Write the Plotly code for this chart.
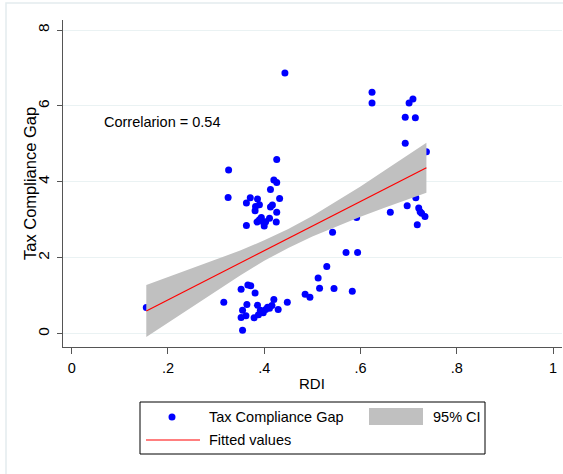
import plotly.graph_objects as go

# ---- data ----
rdi = [0.155, 0.316, 0.326, 0.325, 0.352, 0.355, 0.352, 0.362, 0.355, 0.364,
       0.366, 0.372, 0.381, 0.379, 0.386, 0.388, 0.392, 0.398, 0.403, 0.411,
       0.416, 0.420, 0.429, 0.448, 0.395, 0.407,
       0.363, 0.363, 0.371, 0.382, 0.386, 0.390, 0.381, 0.385, 0.394, 0.400,
       0.403, 0.411, 0.413, 0.417, 0.413, 0.420, 0.426, 0.426, 0.432, 0.426,
       0.425, 0.390, 0.398,
       0.443, 0.485, 0.495, 0.512, 0.515, 0.530, 0.542, 0.545, 0.570, 0.583,
       0.594, 0.592, 0.624, 0.624, 0.662, 0.693, 0.693, 0.701, 0.709, 0.714,
       0.697, 0.715, 0.718, 0.721, 0.724, 0.727, 0.734, 0.737]
gap = [0.69, 0.83, 4.31, 3.59, 1.17, 0.62, 0.43, 0.47, 0.09, 0.77,
       1.28, 1.26, 1.07, 0.42, 0.75, 0.50, 0.62, 0.55, 0.64, 0.67,
       0.74, 0.90, 0.64, 0.83, 0.58, 0.70,
       3.44, 2.85, 3.58, 3.35, 3.55, 3.40, 3.24, 2.94, 3.06, 2.84,
       2.95, 3.04, 3.34, 3.39, 3.80, 4.05, 3.98, 4.59, 3.56, 3.20,
       2.94, 3.00, 2.94,
       6.87, 1.04, 0.96, 1.47, 1.20, 1.77, 2.67, 1.19, 2.14, 1.12,
       2.14, 3.06, 6.36, 6.08, 3.20, 5.70, 5.02, 6.08, 6.18, 5.69,
       3.37, 3.58, 2.87, 3.31, 3.21, 3.17, 3.09, 4.79]

# fitted line (Stata lfit) and its 95% CI band
fit_x = [0.155, 0.737]
fit_y = [0.60, 4.37]
ci_x = [0.155, 0.20, 0.25, 0.30, 0.35, 0.40, 0.45, 0.50, 0.55, 0.60, 0.65, 0.70, 0.737]
ci_hi = [1.285, 1.49, 1.72, 1.95, 2.19, 2.46, 2.76, 3.10, 3.49, 3.88, 4.30, 4.72, 5.03]
ci_lo = [-0.085, 0.29, 0.72, 1.13, 1.53, 1.92, 2.26, 2.56, 2.83, 3.08, 3.32, 3.54, 3.71]

x_tickvals = [0, 0.2, 0.4, 0.6, 0.8, 1]
x_ticktext = ["0", ".2", ".4", ".6", ".8", "1"]
y_tickvals = [0, 2, 4, 6, 8]
y_ticktext = ["0", "2", "4", "6", "8"]
corr_label = "Correlarion = 0.54"

W, H = 563, 474
L, R, T, B = 63, 1, 20, 127
pw, ph = W - L - R, H - T - B


def px(xp):
    return (xp - L) / pw


def py(yp):
    return (H - B - yp) / ph


FONT = "Liberation Sans, Arial, sans-serif"
BLUE = "#0000FF"
GRAY = "#C0C0C0"
RED = "#FF0000"
GRID = "#EAF2F3"

fig = go.Figure()
fig.add_trace(go.Scatter(x=rdi, y=gap, mode="markers",
                         marker=dict(color=BLUE, size=7, line=dict(width=0)),
                         name="Tax Compliance Gap", showlegend=False))
fig.add_trace(go.Scatter(x=ci_x, y=ci_lo, mode="lines", line=dict(width=0, color=GRAY),
                         showlegend=False, hoverinfo="skip"))
fig.add_trace(go.Scatter(x=ci_x, y=ci_hi, mode="lines", line=dict(width=0, color=GRAY),
                         fill="tonexty", fillcolor=GRAY, name="95% CI",
                         showlegend=False, hoverinfo="skip"))
fig.add_trace(go.Scatter(x=fit_x, y=fit_y, mode="lines", line=dict(width=1.2, color=RED),
                         name="Fitted values", showlegend=False))

x0 = -8.7 / 481.3
x1 = (562 - 71.7) / 481.3
y0 = (333.7 - 347) / 37.96
y1 = (333.7 - 20) / 37.96

fig.update_xaxes(range=[x0, x1], tickvals=x_tickvals, ticktext=x_ticktext,
                 showgrid=False, zeroline=False, showline=True, linecolor="#555555",
                 linewidth=1, ticks="outside", ticklen=6, tickcolor="#555555",
                 tickfont=dict(family=FONT, size=14.5, color="black"),
                 ticklabelstandoff=2)
fig.update_yaxes(range=[y0, y1], tickvals=y_tickvals, ticktext=y_ticktext,
                 showgrid=True, gridcolor=GRID, gridwidth=1.2, zeroline=False,
                 showline=True, linecolor="#555555", linewidth=1, ticks="outside",
                 ticklen=5, tickcolor="#555555", tickangle=-90,
                 tickfont=dict(family=FONT, size=15.5, color="black"),
                 ticklabelstandoff=2)

shapes = [
    # outer graph-region frame
    dict(type="rect", xref="paper", yref="paper", x0=px(6), x1=px(600),
         y0=py(520), y1=py(3), line=dict(color="#E3ECEE", width=1.5),
         fillcolor="rgba(0,0,0,0)", layer="below"),
    # legend box
    dict(type="rect", xref="paper", yref="paper", x0=px(140), x1=px(485),
         y0=py(454), y1=py(402), line=dict(color="black", width=1),
         fillcolor="white"),
    dict(type="circle", xref="paper", yref="paper", x0=px(168.5), x1=px(175.5),
         y0=py(420.5), y1=py(413.5), line=dict(width=0), fillcolor=BLUE),
    dict(type="rect", xref="paper", yref="paper", x0=px(369), x1=px(423),
         y0=py(425), y1=py(408), line=dict(width=0), fillcolor=GRAY),
    dict(type="line", xref="paper", yref="paper", x0=px(146), x1=px(200),
         y0=py(440), y1=py(440), line=dict(color=RED, width=1.2)),
]

ann = [
    dict(x=0.063, y=5.58, xref="x", yref="y", text=corr_label, showarrow=False,
         xanchor="left", yanchor="middle", font=dict(family=FONT, size=14.5, color="black")),
    dict(x=px(312), y=py(383), xref="paper", yref="paper", text="RDI", showarrow=False,
         xanchor="center", yanchor="middle", font=dict(family=FONT, size=15, color="black")),
    dict(x=px(30), y=py(184), xref="paper", yref="paper", text="Tax Compliance Gap",
         showarrow=False, textangle=-90, xanchor="center", yanchor="middle",
         font=dict(family=FONT, size=16.5, color="black")),
    dict(x=px(207), y=py(417), xref="paper", yref="paper", text="Tax Compliance Gap",
         showarrow=False, xanchor="left", yanchor="middle",
         font=dict(family=FONT, size=14.5, color="black")),
    dict(x=px(431), y=py(417), xref="paper", yref="paper", text="95% CI",
         showarrow=False, xanchor="left", yanchor="middle",
         font=dict(family=FONT, size=14.5, color="black")),
    dict(x=px(207), y=py(440), xref="paper", yref="paper", text="Fitted values",
         showarrow=False, xanchor="left", yanchor="middle",
         font=dict(family=FONT, size=14.5, color="black")),
]

fig.update_layout(width=W, height=H, margin=dict(l=L, r=R, t=T, b=B),
                  plot_bgcolor="white", paper_bgcolor="white",
                  shapes=shapes, annotations=ann, showlegend=False,
                  font=dict(family=FONT))

fig.write_html("out.html")
